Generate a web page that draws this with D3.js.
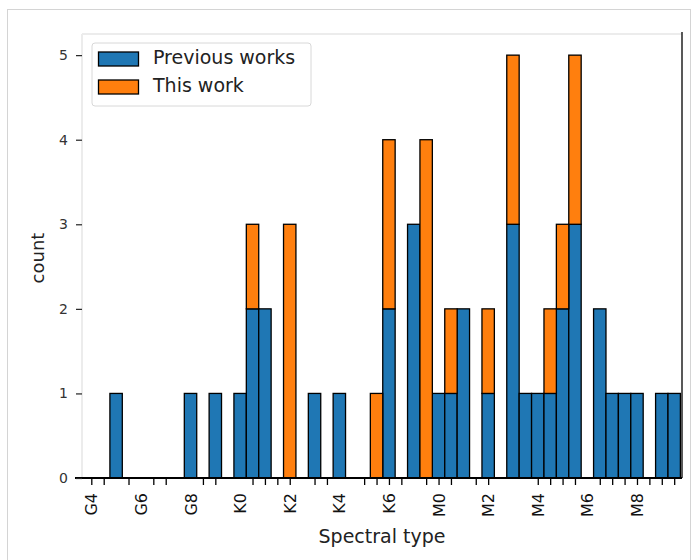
<!DOCTYPE html>
<html>
<head>
<meta charset="utf-8">
<script src="https://cdn.jsdelivr.net/npm/d3@7"></script>
<style>
    body { margin: 0; background: #fff; }
    text { font-family: "DejaVu Sans", sans-serif; }
</style>
</head>
<body>
<div id="chart"></div>
<script>
// half-subtype bins, counted from G4
const binIndex = [0, 1, 2, 3, 4, 5, 6, 7, 8, 9, 10, 11, 12, 13, 14, 15, 16, 17, 18, 19, 20, 21, 22, 23,
                  24, 25, 26, 27, 28, 29, 30, 31, 32, 33, 34, 35, 36, 37, 38, 39, 40, 41, 42, 43, 44, 45, 46, 47];
const previousWorks = [0, 0, 1, 0, 0, 0, 0, 0, 1, 0, 1, 0, 1, 2, 2, 0, 0, 0, 1, 0, 1, 0, 0, 0,
                       2, 0, 3, 0, 1, 1, 2, 0, 1, 0, 3, 1, 1, 1, 2, 3, 0, 2, 1, 1, 1, 0, 1, 1];
const thisWork = [0, 0, 0, 0, 0, 0, 0, 0, 0, 0, 0, 0, 0, 1, 0, 0, 3, 0, 0, 0, 0, 0, 0, 1,
                  2, 0, 0, 4, 0, 1, 0, 0, 1, 0, 2, 0, 0, 1, 1, 2, 0, 0, 0, 0, 0, 0, 0, 0];
const tickLabels = ["G4", "G6", "G8", "K0", "K2", "K4", "K6", "M0", "M2", "M4", "M6", "M8"];
const labelPositions = [0, 4, 8, 12, 16, 20, 24, 28, 32, 36, 40, 44];
const tickPositions = [0, 1, 3, 5, 6, 9, 10, 13, 14, 15, 16, 18, 19, 22, 23, 24, 25, 27, 28, 29,
                       31, 32, 36, 37, 38, 39, 41, 42, 43, 44, 45, 46, 47];
const yTicks = [0, 1, 2, 3, 4, 5];
const seriesNames = ["Previous works", "This work"];
const colors = ["#1f77b4", "#ff7f0e"];

const width = 696, height = 560;
const plot = { left: 82, right: 682, top: 34, bottom: 478 };

const svg = d3.select("#chart")
    .append("svg")
    .attr("width", width)
    .attr("height", height);

// outer frame of the figure
svg.append("rect")
    .attr("x", 7.5).attr("y", 9.5)
    .attr("width", 683).attr("height", 560)
    .attr("fill", "none")
    .attr("stroke", "#d4d4d4");

const x = d3.scaleLinear()
    .domain([-0.75, 47.63])
    .range([plot.left, plot.right]);

const y = d3.scaleLinear()
    .domain([0, 5.25])
    .range([plot.bottom, plot.top]);

const barW = x(0.5) - x(-0.5);

// faint left / top spines
svg.append("line")
    .attr("x1", plot.left).attr("x2", plot.right)
    .attr("y1", plot.top).attr("y2", plot.top)
    .attr("stroke", "#ececec").attr("stroke-width", 2);
svg.append("line")
    .attr("x1", plot.left).attr("x2", plot.left)
    .attr("y1", plot.top).attr("y2", plot.bottom)
    .attr("stroke", "#ececec").attr("stroke-width", 2);

const stacked = binIndex.map((b, i) => ({
    bin: b,
    prev: previousWorks[i],
    total: previousWorks[i] + thisWork[i]
}));

// previous works (bottom of stack)
svg.append("g").selectAll("rect")
    .data(stacked)
    .enter().append("rect")
    .attr("x", d => x(d.bin) - barW / 2)
    .attr("y", d => y(d.prev))
    .attr("width", barW)
    .attr("height", d => y(0) - y(d.prev))
    .attr("fill", colors[0])
    .attr("stroke", "#000")
    .attr("stroke-width", 1.3);

// this work, stacked on top
svg.append("g").selectAll("rect")
    .data(stacked)
    .enter().append("rect")
    .attr("x", d => x(d.bin) - barW / 2)
    .attr("y", d => y(d.total))
    .attr("width", barW)
    .attr("height", d => y(d.prev) - y(d.total))
    .attr("fill", colors[1])
    .attr("stroke", "#000")
    .attr("stroke-width", 1.3);

// right spine
svg.append("line")
    .attr("x1", plot.right).attr("x2", plot.right)
    .attr("y1", plot.top - 2).attr("y2", plot.bottom)
    .attr("stroke", "#222").attr("stroke-width", 1.5);

// x axis: short ticks, rotated labels at every second subtype
const xAxis = svg.append("g")
    .attr("transform", `translate(0,${plot.bottom})`)
    .call(d3.axisBottom(x).tickValues(tickPositions).tickFormat("").tickSize(7).tickSizeOuter(0));
xAxis.select(".domain").remove();
xAxis.selectAll(".tick line").attr("stroke", "#000").attr("stroke-width", 1.3);

svg.append("line")
    .attr("x1", 75).attr("x2", plot.right)
    .attr("y1", plot.bottom).attr("y2", plot.bottom)
    .attr("stroke", "#000").attr("stroke-width", 2);

svg.append("g").selectAll("text")
    .data(labelPositions)
    .enter().append("text")
    .attr("transform", d => `translate(${x(d) + 6},493) rotate(-90)`)
    .attr("text-anchor", "end")
    .attr("font-size", 16)
    .attr("fill", "#111")
    .text((d, i) => tickLabels[i]);

// y axis
const yAxis = svg.append("g")
    .attr("transform", `translate(${plot.left},0)`)
    .call(d3.axisLeft(y).tickValues(yTicks).tickFormat(d3.format("d")).tickSize(6).tickPadding(8));
yAxis.select(".domain").remove();
yAxis.selectAll(".tick line").attr("stroke", "#222").attr("stroke-width", 1.2);
yAxis.selectAll(".tick text")
    .attr("font-size", 14)
    .attr("font-family", "DejaVu Sans, sans-serif")
    .attr("fill", "#333");

// axis titles
svg.append("text")
    .attr("x", 382)
    .attr("y", 543)
    .attr("text-anchor", "middle")
    .attr("font-size", 19)
    .attr("fill", "#222")
    .text("Spectral type");

svg.append("text")
    .attr("transform", `translate(44,${(plot.top + plot.bottom) / 2 + 2}) rotate(-90)`)
    .attr("text-anchor", "middle")
    .attr("font-size", 18)
    .attr("fill", "#222")
    .text("count");

// legend
const legend = svg.append("g");
legend.append("rect")
    .attr("x", 92).attr("y", 43)
    .attr("width", 219).attr("height", 63)
    .attr("rx", 3)
    .attr("fill", "#fff").attr("fill-opacity", 0.8)
    .attr("stroke", "#d8d8d8");

seriesNames.forEach((name, i) => {
    legend.append("rect")
        .attr("x", 98.5).attr("y", 52 + i * 28)
        .attr("width", 40).attr("height", 14)
        .attr("fill", colors[i])
        .attr("stroke", "#000").attr("stroke-width", 1.3);
    legend.append("text")
        .attr("x", 153).attr("y", 64 + i * 28)
        .attr("font-size", 19)
        .attr("fill", "#222")
        .text(name);
});
</script>
</body>
</html>
